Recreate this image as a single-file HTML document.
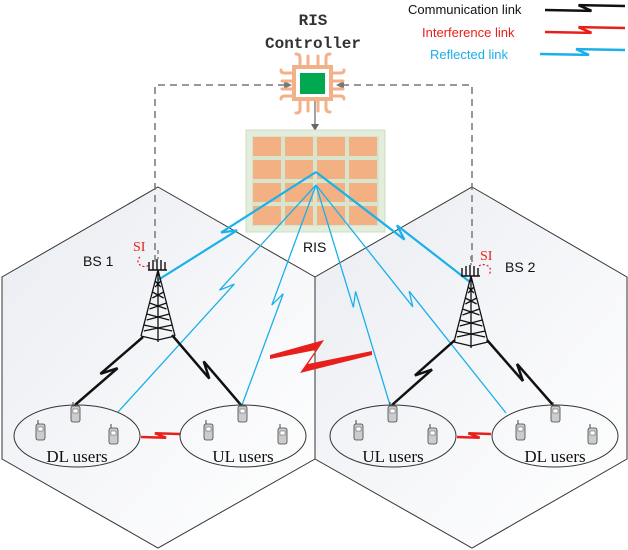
<!DOCTYPE html>
<html><head><meta charset="utf-8"><style>
body{margin:0;background:#fff}
svg{display:block}
text{font-family:"Liberation Sans",sans-serif}
</style></head><body>
<svg id="s" width="628" height="550" viewBox="0 0 628 550" xmlns="http://www.w3.org/2000/svg">
<defs>
<linearGradient id="g" x1="0" y1="0" x2="1" y2="1"><stop offset="0" stop-color="#e9ecf1"/><stop offset="0.6" stop-color="#f7f8fa"/><stop offset="1" stop-color="#ffffff"/></linearGradient>
</defs>
<polygon points="158,187 315,277 315,459 158,548 2,459 2,277" fill="url(#g)" stroke="#333" stroke-width="1"/>
<polygon points="472,187 627,277 627,459 472,548 315,459 315,277" fill="url(#g)" stroke="#333" stroke-width="1"/>
<path d="M155,262 V85 H288" fill="none" stroke="#777" stroke-width="1.5" stroke-dasharray="7,5"/>
<path d="M472,262 V85 H340" fill="none" stroke="#777" stroke-width="1.5" stroke-dasharray="7,5"/>
<polygon points="292,85 284,81 284,89" fill="#777"/>
<polygon points="336,85 344,81 344,89" fill="#777"/>
<line x1="315" y1="101" x2="315" y2="126" stroke="#666" stroke-width="1.2"/>
<polygon points="315,131 311,124 319,124" fill="#666"/>
<g stroke="#f2b188" stroke-width="3" fill="none" stroke-linecap="round">
<path d="M300,66 V58 Q300,54 296,54"/><path d="M308,66 V56"/><path d="M318,66 V56"/><path d="M326,66 V58 Q326,54 330,54"/>
<path d="M300,100 V110 Q300,113 296,113"/><path d="M308,100 V111"/><path d="M318,100 V111"/><path d="M326,100 V108 Q326,112 330,112"/>
<path d="M293,73 H284 Q281,73 281,70"/><path d="M293,81 H282"/><path d="M293,89 H282"/><path d="M293,96 H285 Q281,96 281,99"/>
<path d="M332,73 H341 Q344,73 344,70"/><path d="M332,81 H343"/><path d="M332,89 H343"/><path d="M332,96 H340 Q344,96 344,99"/>
</g>
<rect x="294" y="67" width="37" height="32" fill="#fff" stroke="#f2b188" stroke-width="4"/>
<rect x="300" y="73" width="25" height="21" fill="#00a84f"/>
<text x="313" y="25" font-size="16" font-weight="bold" text-anchor="middle" fill="#333" style="font-family:'Liberation Mono',monospace">RIS</text>
<text x="313" y="48" font-size="16" font-weight="bold" text-anchor="middle" fill="#333" style="font-family:'Liberation Mono',monospace">Controller</text>
<rect x="246" y="130" width="139" height="102" fill="#e3eddb" stroke="#cfdcc6"/>
<rect x="252" y="136" width="127" height="90" fill="#d7e5cc"/>
<g fill="#f3b082" id="cells"></g>
<text x="303" y="252" font-size="14" fill="#111">RIS</text>
<text x="83" y="266" font-size="14" fill="#111">BS 1</text>
<text x="505" y="272" font-size="14" fill="#111">BS 2</text>
<text x="408" y="14" font-size="13" fill="#111">Communication link</text>
<text x="422" y="37" font-size="13" fill="#e8201c">Interference link</text>
<text x="430" y="59" font-size="13" fill="#1ab0ea">Reflected link</text>
<g id="links"></g>
<polygon points="270,355 324,340 308,364 372,351 372,355 300,373 316,350 270,359" fill="#e8201c"/>
<g fill="none" stroke="#333" stroke-width="1">
<ellipse cx="77" cy="436" rx="63" ry="31"/><ellipse cx="243" cy="436" rx="63" ry="31"/>
<ellipse cx="393" cy="436" rx="63" ry="31"/><ellipse cx="555" cy="436" rx="63" ry="31"/>
</g>
<g font-size="17" fill="#111" text-anchor="middle">
<text x="77" y="462" style="font-family:'Liberation Serif',serif">DL users</text>
<text x="243" y="462" style="font-family:'Liberation Serif',serif">UL users</text>
<text x="393" y="462" style="font-family:'Liberation Serif',serif">UL users</text>
<text x="555" y="462" style="font-family:'Liberation Serif',serif">DL users</text>
</g>
<g id="phones"></g>
<g id="towers"></g>
<text x="133" y="251" font-size="14" fill="#e8201c" style="font-family:'Liberation Serif',serif">SI</text>
<text x="480" y="260" font-size="14" fill="#e8201c" style="font-family:'Liberation Serif',serif">SI</text>
<path d="M140,257 a6,5 0 1 0 9,8" fill="none" stroke="#e8201c" stroke-dasharray="2,2" stroke-width="1.2"/>
<path d="M479,266 a6,5 0 1 1 9,9" fill="none" stroke="#e8201c" stroke-dasharray="2,2" stroke-width="1.2"/>
</svg>
<script>
var NS="http://www.w3.org/2000/svg";
function el(p,t,a){var e=document.createElementNS(NS,t);for(var k in a)e.setAttribute(k,a[k]);document.getElementById(p).appendChild(e);return e;}
var cx=[253,285,317,349],cy=[137,160,183,206];
cx.forEach(function(x){cy.forEach(function(y){el("cells","rect",{x:x,y:y,width:28,height:19});});});
function bolt(ax,ay,bx,by,t,w,col,sw){
 var dx=bx-ax,dy=by-ay,L=Math.hypot(dx,dy),ux=dx/L,uy=dy/L,nx=-uy,ny=ux;
 var mx=ax+dx*t,my=ay+dy*t;
 var p1=[mx+ux*w*0.9+nx*w*0.45,my+uy*w*0.9+ny*w*0.45],p2=[mx-ux*w*0.9-nx*w*0.45,my-uy*w*0.9-ny*w*0.45];
 el("links","polyline",{points:[ax,ay,p1[0],p1[1],p2[0],p2[1],bx,by].join(","),fill:"none",stroke:col,"stroke-width":sw,"stroke-linejoin":"miter"});
}
var B="#1ab0ea",K="#111",R="#e8201c";
bolt(316,172,158,280,0.55,8,B,2.2);
bolt(316,185,118,412,0.45,8,B,1.3);
bolt(316,185,242,405,0.52,8,B,1.3);
bolt(316,185,390,405,0.52,8,B,1.3);
bolt(316,185,506,413,0.5,8,B,1.3);
bolt(316,172,470,282,0.55,8,B,2.2);
bolt(143,337,75,405,0.5,9,K,2.5);
bolt(172,335,241,405,0.5,9,K,2.5);
bolt(455,340,392,405,0.5,9,K,2.5);
bolt(487,340,553,405,0.5,9,K,2.5);
bolt(141,437,180,434,0.5,6,R,2.5);
bolt(457,437,491,434,0.5,6,R,2.5);
bolt(545,10,625,6,0.5,7,K,2.5);
bolt(545,32,625,28,0.5,7,R,2.5);
bolt(540,54,625,50,0.5,7,B,2.5);
[[75,406],[40,424],[113,428],[242,406],[208,424],[282,428],[392,406],[358,424],[432,428],[555,406],[520,424],[592,428]].forEach(function(p){
 el("phones","rect",{x:p[0]-4,y:p[1],width:9,height:16,rx:2,fill:"#ccc",stroke:"#444","stroke-width":0.8});
 el("phones","rect",{x:p[0]-2,y:p[1]+3,width:5,height:4,fill:"#fff",stroke:"#555","stroke-width":0.5});
 el("phones","line",{x1:p[0]-2,y1:p[1],x2:p[0]-2,y2:p[1]-4,stroke:"#444","stroke-width":1});
});
function tower(x,top){
 var g="towers",b=top+80,hw0=17;
 el(g,"line",{x1:x,y1:top-12,x2:x,y2:top-3,stroke:"#888","stroke-width":1.5,"stroke-dasharray":"4,3"});
 el(g,"path",{d:"M"+(x-9)+","+top+" v8 M"+(x-5)+","+(top-2)+" v10 M"+(x-1)+","+(top-3)+" v11 M"+(x+3)+","+(top-2)+" v10 M"+(x+7)+","+top+" v8 M"+(x-10)+","+(top+8)+" h19",stroke:"#111","stroke-width":1.4,fill:"none"});
 var d="M"+x+","+(top+8)+" L"+(x-hw0)+","+(b-6)+" M"+x+","+(top+8)+" L"+(x+hw0)+","+(b-6)+" M"+x+","+(top+8)+" V"+b+" M"+(x-hw0)+","+(b-6)+" L"+x+","+(b-2)+" L"+(x+hw0)+","+(b-6);
 for(var i=1;i<6;i++){var y=top+8+i*11,hw=hw0*(y-top-8)/(b-14-top);d+=" M"+(x-hw)+","+y+" L"+(x+hw)+","+(y+6)+" M"+(x+hw)+","+y+" L"+(x-hw)+","+(y+6);}
 el(g,"path",{d:d,stroke:"#111","stroke-width":1.3,fill:"none"});
}
tower(158,262);tower(471,268);
</script>
</body></html>
